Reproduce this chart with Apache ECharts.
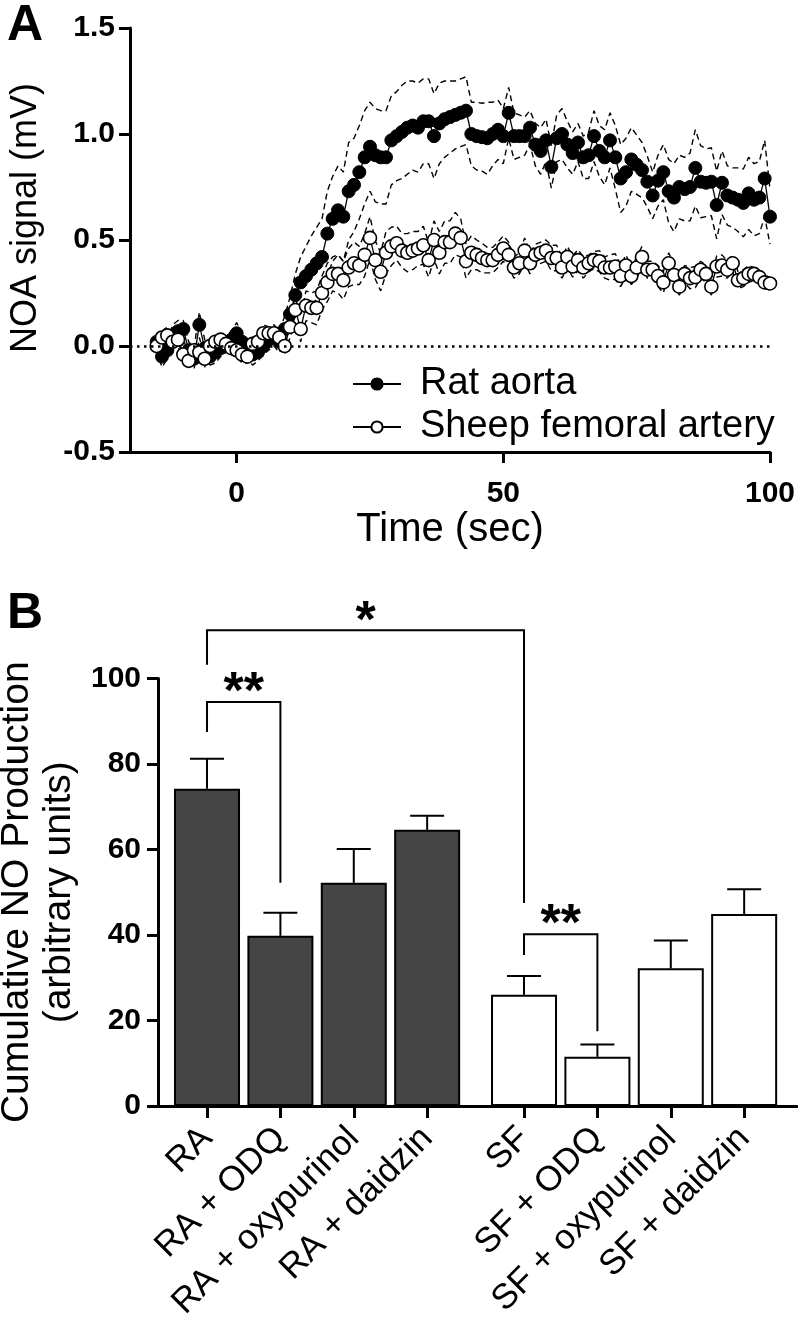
<!DOCTYPE html>
<html><head><meta charset="utf-8">
<script src="https://cdn.jsdelivr.net/npm/echarts@6/dist/echarts.min.js"></script>
<style>html,body{margin:0;padding:0;background:#fff}#c{width:798px;height:1319px}</style>
</head><body><div id="c"></div>
<script>
// ---------- Panel A data ----------
const timeSec = [-15,-14,-13,-12,-11,-10,-9,-8,-7,-6,-5,-4,-3,-2,-1,0,1,2,3,4,5,6,7,8,
 9,10,11,12,13,14,15,16,17,18,19,20,21,22,23,24,25,26,27,28,29,30,31,32,33,34,35,36,37,38,39,40,
 41,42,43,44,45,46,47,48,49,50,51,52,53,54,55,56,57,58,59,60,61,62,63,64,65,66,67,68,69,70,
 71,72,73,74,75,76,77,78,79,80,81,82,83,84,85,86,87,88,89,90,91,92,93,94,95,96,97,98,99,100];
const ratAorta = [0.02,-0.05,-0.02,0.05,0.07,0.08,-0.02,-0.06,0.10,-0.01,-0.05,-0.03,-0.01,0.01,0.03,0.06,0.02,-0.02,-0.04,-0.03,0.00,0.03,0.05,0.02,
 0.08,0.15,0.24,0.30,0.33,0.36,0.39,0.42,0.53,0.60,0.64,0.61,
 0.73,0.76,0.82,0.89,0.94,0.90,0.89,0.89,0.97,0.99,
 1.01,1.03,1.04,1.03,1.06,1.06,0.99,1.05,1.07,1.08,
 1.09,1.10,1.11,1.00,0.99,0.985,0.98,1.00,1.02,0.99,
 1.10,0.99,0.99,0.99,1.03,0.95,0.92,0.97,0.845,0.98,
 1.00,0.95,0.91,0.96,0.89,0.90,0.99,0.92,0.89,0.97,
 0.89,0.79,0.82,0.88,0.855,0.83,0.775,0.71,0.78,0.82,
 0.73,0.70,0.75,0.74,0.75,0.84,0.775,0.77,0.775,0.665,
 0.77,0.71,0.70,0.69,0.675,0.72,0.69,0.70,0.79,0.61];
const ratAortaSem = [0.04,0.05,0.04,0.05,0.05,0.04,0.04,0.05,0.06,0.04,0.04,0.05,0.04,0.04,0.04,0.05,0.04,0.04,0.05,0.04,0.04,0.05,0.05,0.05,
 0.06,0.08,0.10,0.12,0.14,0.16,0.17,0.18,0.20,0.20,0.21,0.21,
 0.23,0.22,0.22,0.22,0.21,0.22,0.22,0.22,0.21,0.21,0.22,0.22,0.21,0.21,0.20,0.20,0.20,0.19,0.18,0.17,0.16,0.16,0.16,
 0.15,0.16,0.16,0.17,0.15,0.14,0.13,
 0.12,0.11,0.10,0.09,0.08,0.10,0.11,0.10,0.10,0.11,0.12,0.11,0.10,0.09,0.10,0.11,0.12,0.12,0.13,0.13,
 0.15,0.16,0.16,0.15,0.14,0.13,0.12,0.11,0.12,0.13,0.15,0.16,0.15,0.15,0.16,0.18,0.17,0.16,0.16,0.16,0.15,0.14,0.14,0.15,0.16,0.17,0.17,0.17,0.18,0.13];
const sheepFemoral = [0.00,0.04,0.05,0.02,0.03,-0.04,-0.07,-0.02,-0.03,-0.06,0.00,0.02,0.03,0.01,-0.01,-0.02,-0.04,-0.05,0.01,0.02,0.06,0.06,0.06,0.04,
 0.00,0.09,0.17,0.08,0.19,0.18,0.18,0.25,0.30,0.34,0.34,0.31,
 0.37,0.39,0.38,0.43,0.51,0.405,0.35,0.44,0.47,0.485,
 0.45,0.44,0.45,0.46,0.475,0.405,0.50,0.44,0.49,0.49,
 0.53,0.51,0.40,0.44,0.43,0.415,0.405,0.405,0.43,0.46,
 0.43,0.37,0.39,0.45,0.39,0.43,0.44,0.45,0.415,0.415,
 0.37,0.42,0.375,0.405,0.37,0.39,0.405,0.40,0.37,0.37,
 0.375,0.33,0.38,0.33,0.37,0.42,0.36,0.36,0.33,0.30,
 0.39,0.335,0.28,0.34,0.32,0.325,0.36,0.34,0.28,0.375,
 0.38,0.36,0.39,0.31,0.32,0.34,0.34,0.325,0.30,0.295];
const sheepFemoralSem = [0.03,0.03,0.04,0.03,0.03,0.04,0.03,0.03,0.03,0.04,0.03,0.03,0.03,0.04,0.03,0.03,0.04,0.03,0.03,0.03,0.04,0.03,0.03,0.04,
 0.04,0.05,0.06,0.06,0.07,0.07,0.08,0.08,0.09,0.08,0.09,0.09,
 0.09,0.10,0.09,0.10,0.10,0.09,0.09,0.10,0.09,0.08,0.08,0.09,0.09,0.08,0.09,0.08,0.09,0.10,0.10,0.10,0.10,0.09,0.08,0.08,0.07,
 0.07,0.06,0.06,0.06,0.06,0.06,0.05,0.05,0.06,0.05,
 0.05,0.05,0.05,0.06,0.06,0.05,0.05,0.05,0.05,0.05,
 0.04,0.04,0.05,0.05,0.06,0.06,0.05,0.05,0.04,0.05,
 0.05,0.04,0.04,0.05,0.05,0.05,0.05,0.04,0.04,0.05,
 0.05,0.04,0.04,0.04,0.05,0.05,0.04,0.04,0.04,0.04,
 0.04,0.03,0.03,0.03,0.03];
const xTicksA = [0, 50, 100];
const seriesNamesA = ['Rat aorta', 'Sheep femoral artery'];

// ---------- Panel B data ----------
const barCategories = ['RA','RA + ODQ','RA + oxypurinol','RA + daidzin','SF','SF + ODQ','SF + oxypurinol','SF + daidzin'];
const barMeans  = [74.2, 39.8, 52.2, 64.6, 26.0, 11.5, 32.2, 44.9];
const barErrors = [7.0, 5.4, 7.9, 3.3, 4.4, 2.9, 6.5, 5.8];
// significance brackets: category indices, bracket top, left leg end, right leg end, label
const sigFrom  = [0, 0, 4];
const sigTo    = [4, 1, 5];
const sigTop   = [111.3, 94.5, 40.2];
const sigLeft  = [103.2, 87.5, 35.3];
const sigRight = [47.5, 52.2, 17.5];
const sigLabel = ['*', '**', '**'];

// ---------- layout helpers ----------
const FONT = '"Liberation Sans", Arial, Helvetica, sans-serif';
const GROUP_GAP = 0.32;
const pos = i => i + (i >= 4 ? GROUP_GAP : 0);
const barPos = barCategories.map((c, i) => pos(i));

const chart = echarts.init(document.getElementById('c'), null, {renderer: 'canvas'});

const axisLineStyle = {color: '#000', width: 3};
const bandStyle = {color: '#000', width: 1.4, type: [6, 4]};

const option = {
  animation: false,
  backgroundColor: '#fff',
  textStyle: {fontFamily: FONT},
  title: [
    {text: 'A', left: 2, top: -4, textStyle: {fontSize: 50, fontWeight: 'bold', color: '#000', fontFamily: FONT}},
    {text: 'B', left: 2, top: 584, textStyle: {fontSize: 50, fontWeight: 'bold', color: '#000', fontFamily: FONT}}
  ],
  legend: {
    data: seriesNamesA,
    orient: 'vertical', left: 347, top: 360,
    itemWidth: 48, itemHeight: 14, itemGap: 5,
    selectedMode: false,
    textStyle: {fontSize: 38, color: '#000', fontFamily: FONT, padding: [0, 0, 0, 14]}
  },
  grid: [
    {left: 130, top: 28, width: 640, height: 424, outerBoundsMode: 'none', containLabel: false},
    {left: 158, top: 678.5, width: 639, height: 427.5, outerBoundsMode: 'none', containLabel: false}
  ],
  xAxis: [
    {
      gridIndex: 0, type: 'value', min: -20, max: 100,
      axisLine: {onZero: false, lineStyle: axisLineStyle},
      axisTick: {customValues: xTicksA, length: 11, lineStyle: {width: 3, color: '#000'}},
      axisLabel: {customValues: xTicksA, fontSize: 30, fontWeight: 'bold', color: '#000', margin: 27, fontFamily: FONT},
      splitLine: {show: false},
      name: 'Time (sec)', nameLocation: 'middle', nameGap: 56,
      nameTextStyle: {fontSize: 40, color: '#000', fontFamily: FONT}
    },
    {
      gridIndex: 1, type: 'value', min: -0.668, max: 8.04,
      axisLine: {onZero: false, lineStyle: axisLineStyle},
      axisTick: {customValues: barPos, length: 12, lineStyle: {width: 3, color: '#000'}},
      axisLabel: {
        customValues: barPos, rotate: 45, fontSize: 35, color: '#000', margin: 27, fontFamily: FONT,
        formatter: v => { const i = barPos.findIndex(p => Math.abs(p - v) < 1e-6); return i >= 0 ? barCategories[i] : ''; }
      },
      splitLine: {show: false}
    }
  ],
  yAxis: [
    {
      gridIndex: 0, type: 'value', min: -0.5, max: 1.5, interval: 0.5,
      axisLine: {show: true, onZero: false, lineStyle: axisLineStyle},
      axisTick: {show: true, length: 11, lineStyle: {width: 3, color: '#000'}},
      axisLabel: {fontSize: 30, fontWeight: 'bold', color: '#000', margin: 15, fontFamily: FONT, formatter: v => v.toFixed(1)},
      splitLine: {show: false},
      name: 'NOA signal (mV)', nameLocation: 'middle', nameGap: 86, nameRotate: 90,
      nameTextStyle: {fontSize: 36, color: '#000', fontFamily: FONT, padding: [0, 0, 0, 44]}
    },
    {
      gridIndex: 1, type: 'value', min: 0, max: 100, interval: 20,
      axisLine: {show: true, onZero: false, lineStyle: axisLineStyle},
      axisTick: {show: true, length: 11, lineStyle: {width: 3, color: '#000'}},
      axisLabel: {fontSize: 30, fontWeight: 'bold', color: '#000', margin: 17, fontFamily: FONT},
      splitLine: {show: false},
      name: 'Cumulative NO Production\n(arbitrary units)', nameLocation: 'middle', nameGap: 67, nameRotate: 90,
      nameTextStyle: {fontSize: 39, lineHeight: 42, color: '#000', fontFamily: FONT}
    }
  ],
  series: [
    // SEM bands (dashed)
    {type: 'line', name: 'ra_up', xAxisIndex: 0, yAxisIndex: 0, showSymbol: false, symbol: 'none', silent: true,
     data: timeSec.map((t, i) => [t, ratAorta[i] + ratAortaSem[i]]), lineStyle: bandStyle, z: 2},
    {type: 'line', name: 'ra_lo', xAxisIndex: 0, yAxisIndex: 0, showSymbol: false, symbol: 'none', silent: true,
     data: timeSec.map((t, i) => [t, ratAorta[i] - ratAortaSem[i]]), lineStyle: bandStyle, z: 2},
    {type: 'line', name: 'sf_up', xAxisIndex: 0, yAxisIndex: 0, showSymbol: false, symbol: 'none', silent: true,
     data: timeSec.map((t, i) => [t, sheepFemoral[i] + sheepFemoralSem[i]]), lineStyle: bandStyle, z: 2},
    {type: 'line', name: 'sf_lo', xAxisIndex: 0, yAxisIndex: 0, showSymbol: false, symbol: 'none', silent: true,
     data: timeSec.map((t, i) => [t, sheepFemoral[i] - sheepFemoralSem[i]]), lineStyle: bandStyle, z: 2},
    // means
    {type: 'line', name: seriesNamesA[0], xAxisIndex: 0, yAxisIndex: 0,
     data: timeSec.map((t, i) => [t, ratAorta[i]]),
     symbol: 'circle', symbolSize: 13, showAllSymbol: true,
     lineStyle: {color: '#000', width: 1.3}, itemStyle: {color: '#000', borderColor: '#000', borderWidth: 1},
     markLine: {silent: true, symbol: 'none', label: {show: false},
       lineStyle: {type: [2.5, 4.5], color: '#000', width: 2.5}, data: [{yAxis: 0}]},
     z: 3},
    {type: 'line', name: seriesNamesA[1], xAxisIndex: 0, yAxisIndex: 0,
     data: timeSec.map((t, i) => [t, sheepFemoral[i]]),
     symbol: 'circle', symbolSize: 13, showAllSymbol: true,
     lineStyle: {color: '#000', width: 1.3}, itemStyle: {color: '#fff', borderColor: '#000', borderWidth: 1.6},
     z: 4},
    // Panel B bars
    {type: 'bar', name: 'bars', xAxisIndex: 1, yAxisIndex: 1, barWidth: 66,
     data: barMeans.map((v, i) => ({value: [pos(i), v], itemStyle: {color: i < 4 ? '#454545' : '#fff'}})),
     itemStyle: {borderColor: '#000', borderWidth: 2}, z: 2},
    // error bars
    {type: 'custom', name: 'errors', xAxisIndex: 1, yAxisIndex: 1, silent: true, z: 3,
     data: barMeans.map((v, i) => [pos(i), v, v + barErrors[i]]),
     renderItem: (params, api) => {
       const b = api.coord([api.value(0), api.value(1)]);
       const t = api.coord([api.value(0), api.value(2)]);
       const hw = 17;
       return {type: 'group', children: [
         {type: 'line', shape: {x1: b[0], y1: b[1], x2: t[0], y2: t[1]}, style: {stroke: '#000', lineWidth: 2}},
         {type: 'line', shape: {x1: t[0] - hw, y1: t[1], x2: t[0] + hw, y2: t[1]}, style: {stroke: '#000', lineWidth: 2}}
       ]};
     }},
    // significance brackets
    {type: 'custom', name: 'sig', xAxisIndex: 1, yAxisIndex: 1, silent: true, clip: false, z: 4,
     data: sigFrom.map((f, i) => [pos(f), pos(sigTo[i]), sigTop[i], sigLeft[i], sigRight[i]]),
     encode: {x: [0, 1], y: [2, 3, 4]},
     renderItem: (params, api) => {
       const i = params.dataIndex;
       const pl = api.coord([api.value(0), api.value(3)]);
       const tl = api.coord([api.value(0), api.value(2)]);
       const tr = api.coord([api.value(1), api.value(2)]);
       const pr = api.coord([api.value(1), api.value(4)]);
       return {type: 'group', children: [
         {type: 'polyline', shape: {points: [pl, tl, tr, pr]}, style: {stroke: '#000', lineWidth: 2, fill: null}},
         {type: 'text', x: (tl[0] + tr[0]) / 2, y: tl[1] + 18,
          style: {text: sigLabel[i], fontSize: 52, fontWeight: 'bold', fontFamily: FONT, fill: '#000', align: 'center', verticalAlign: 'bottom'}}
       ]};
     }}
  ]
};
chart.setOption(option);
</script>
</body></html>
